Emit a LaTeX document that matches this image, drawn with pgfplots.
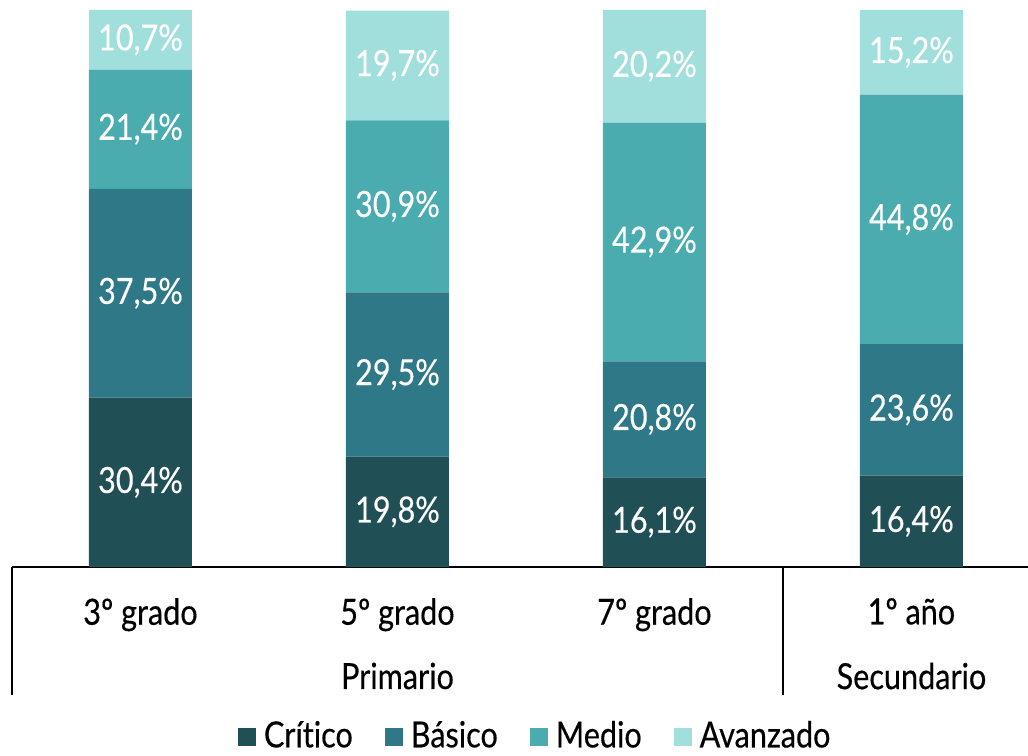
\documentclass[border=0pt]{standalone}
\usepackage{pgfplots}
\pgfplotsset{compat=1.18}
\usepackage{fontspec}
\setmainfont{Lato}[FakeStretch=0.85, Ligatures=NoCommon, FakeBold=0.4]
\definecolor{critico}{HTML}{214F56}
\definecolor{basico}{HTML}{2F7887}
\definecolor{medio}{HTML}{4AACAF}
\definecolor{avanzado}{HTML}{A1DFDD}
\newcommand{\fs}{\fontsize{36bp}{42bp}\selectfont}
\begin{document}
\fs
\begin{tikzpicture}
\begin{axis}[
  at={(12bp,189bp)}, anchor=south west,
  scale only axis, width=1028bp, height=557bp,
  xmin=-0.5, xmax=3.5, ymin=0, ymax=100,
  ybar stacked, bar width=103bp,
  axis x line=bottom, axis y line=none,
  axis line style={black, line width=1.4bp, -},
  xtick={0,1,2,3}, xticklabels={3º grado,5º grado,7º grado,1º año},
  major tick length=0pt, xtick align=outside,
  xticklabel style={yshift=-19bp, font=\fs},
  extra x ticks={-0.5,2.5}, extra x tick labels={},
  extra x tick style={major tick length=128bp, tick style={black, line width=1.4bp}},
  clip=false,
  /pgf/number format/assume math mode=true,
  nodes near coords={\pgfmathprintnumber[use comma, fixed, fixed zerofill, precision=1]{\pgfplotspointmeta}\%},
  every node near coord/.append style={anchor=center, text=white, font=\fs},
  legend columns=4,
  legend style={at={(rel axis cs:0.509,-0.305)}, anchor=center, draw=none, fill=none, font=\fs,
    /tikz/every even column/.append style={column sep=30bp},
    /tikz/every odd column/.append style={column sep=0bp}},
  legend image code/.code={\fill[#1] (0bp,-9bp) rectangle (18bp,9bp);},
]
\addplot[fill=critico, draw=none] coordinates {(0,30.4) (1,19.8) (2,16.1) (3,16.4)};
\addplot[fill=basico, draw=none] coordinates {(0,37.5) (1,29.5) (2,20.8) (3,23.6)};
\addplot[fill=medio, draw=none] coordinates {(0,21.4) (1,30.9) (2,42.9) (3,44.8)};
\addplot[fill=avanzado, draw=none] coordinates {(0,10.7) (1,19.7) (2,20.2) (3,15.2)};
\legend{\,Crítico,\,Básico,\,Medio,\,Avanzado}
\node[font=\fs] at (axis cs:1,0) [yshift=-109bp] {Primario};
\node[font=\fs] at (axis cs:3,0) [yshift=-109bp] {Secundario};
\end{axis}
\pgfresetboundingbox
\path[use as bounding box] (0,0) rectangle (1028bp,756bp);
\end{tikzpicture}
\end{document}
